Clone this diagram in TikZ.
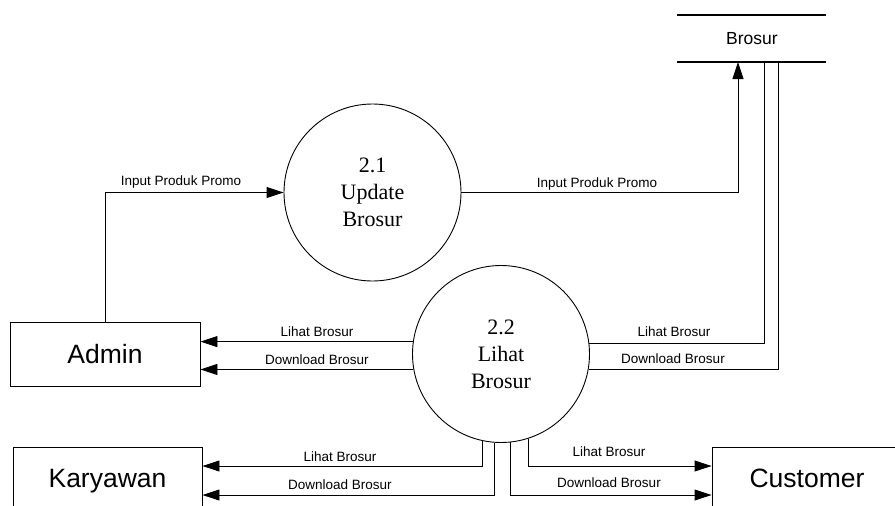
\documentclass[tikz,border=0pt]{standalone}
\usepackage{fontspec}
\setmainfont{Liberation Serif}
\setsansfont{Liberation Sans}
\usetikzlibrary{arrows.meta,calc}
\begin{document}
\begin{tikzpicture}[x=1pt,y=-1pt,
  proc/.style={circle,draw,line width=0.9pt,minimum size=177pt,inner sep=0pt,align=center,font=\fontsize{22}{27}\selectfont\rmfamily},
  ent/.style={rectangle,draw,line width=0.9pt,minimum width=190pt,minimum height=64pt,inner sep=0pt,text depth=0pt,font=\fontsize{26.5}{30}\selectfont\sffamily},
  flow/.style={line width=0.9pt},
  arr/.style={flow,-{Triangle[length=17pt,width=11pt]}},
  lbl/.style={font=\fontsize{13.5}{15}\selectfont\sffamily,inner sep=0pt,anchor=base},
  storeline/.style={line width=2pt}
  ]
\useasboundingbox (0,0) rectangle (895,506);
\clip (0,0) rectangle (895,506);

% data store
\draw[storeline] (677,15) -- (826,15);
\draw[storeline] (677,62) -- (826,62);
\node[font=\fontsize{17.5}{20}\selectfont\sffamily] (store) at (752,38.5) {Brosur};
\coordinate (s1) at (738,62);
\coordinate (s2) at (764,62);
\coordinate (s3) at (778,62);

% processes
\node[proc] (c1) at (372.5,192.5) {2.1\\Update\\Brosur};
\node[proc] (c2) at (501,354) {2.2\\Lihat\\Brosur};

% entities
\node[ent] (admin) at (105,354) {Admin};
\node[ent,minimum width=189pt,minimum height=62pt] (kary) at (107.5,478) {Karyawan};
\node[ent,minimum height=62pt] (cust) at (807,478) {Customer};

% flows
\draw[arr] (admin.north) |- (c1.west);
\draw[arr] (c1.east) -| (s1);
\draw[flow] (s2) |- (c2.7);
\draw[flow] (s3) |- (c2.-10);
\draw[arr] (c2.172) -- (c2.172 -| admin.east);
\draw[arr] (c2.190) -- (c2.190 -| admin.east);
\draw[arr] (c2.-102) |- ([yshift=12pt]kary.east);
\draw[arr] (c2.-94) |- ([yshift=-17pt]kary.east);
\draw[arr] (c2.-72) |- ([yshift=12pt]cust.west);
\draw[arr] (c2.-84) |- ([yshift=-17pt]cust.west);

% labels
\node[lbl] (l1) at (181,185.5) {Input Produk Promo};
\node[lbl] (l2) at (597,187.5) {Input Produk Promo};
\node[lbl] (l3) at (317,336.5) {Lihat Brosur};
\node[lbl] (l4) at (317,364.5) {Download Brosur};
\node[lbl] (l5) at (674,336.5) {Lihat Brosur};
\node[lbl] (l6) at (673,363.5) {Download Brosur};
\node[lbl] (l7) at (340,461.5) {Lihat Brosur};
\node[lbl] (l8) at (340,489.5) {Download Brosur};
\node[lbl] (l9) at (609,456.5) {Lihat Brosur};
\node[lbl] (l10) at (609,487.5) {Download Brosur};
\end{tikzpicture}
\end{document}
